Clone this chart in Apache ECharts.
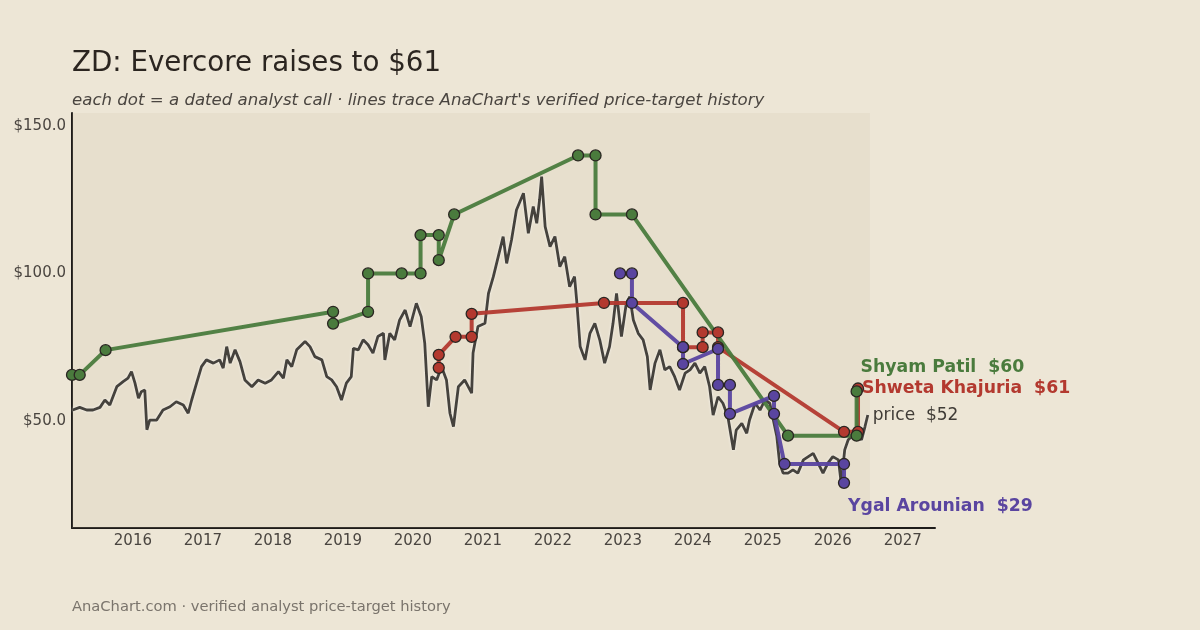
<!DOCTYPE html>
<html>
<head>
<meta charset="utf-8">
<script src="https://cdn.jsdelivr.net/npm/echarts@6/dist/echarts.min.js"></script>
<style>
  html, body { margin: 0; padding: 0; background: #EDE6D6; }
  #chart { width: 1200px; height: 630px; }
</style>
</head>
<body>
<div id="chart"></div>
<script>
// price path (decimal year, close $)
const priceYears = [
  2015.14, 2015.24, 2015.34, 2015.43, 2015.53, 2015.60, 2015.67, 2015.77, 2015.86, 2015.93,
  2015.98, 2016.03, 2016.08, 2016.12, 2016.17, 2016.20, 2016.24, 2016.34, 2016.43, 2016.53,
  2016.62, 2016.72, 2016.79, 2016.84, 2016.91, 2016.98, 2017.05, 2017.15, 2017.24, 2017.29,
  2017.34, 2017.39, 2017.46, 2017.53, 2017.60, 2017.70, 2017.79, 2017.89, 2017.98, 2018.08,
  2018.15, 2018.20, 2018.27, 2018.34, 2018.46, 2018.53, 2018.60, 2018.70, 2018.77, 2018.84,
  2018.91, 2018.98, 2019.05, 2019.12, 2019.15, 2019.22, 2019.29, 2019.36, 2019.43, 2019.50,
  2019.58, 2019.60, 2019.67, 2019.74, 2019.81, 2019.89, 2019.96, 2020.05, 2020.12, 2020.17,
  2020.22, 2020.27, 2020.34, 2020.41, 2020.48, 2020.53, 2020.58, 2020.65, 2020.74, 2020.84,
  2020.86, 2020.93, 2021.03, 2021.08, 2021.15, 2021.22, 2021.29, 2021.34, 2021.41, 2021.48,
  2021.58, 2021.65, 2021.72, 2021.77, 2021.81, 2021.84, 2021.89, 2021.96, 2022.03, 2022.10,
  2022.17, 2022.24, 2022.31, 2022.34, 2022.39, 2022.46, 2022.53, 2022.60, 2022.67, 2022.74,
  2022.81, 2022.86, 2022.91, 2022.98, 2023.05, 2023.10, 2023.15, 2023.22, 2023.29, 2023.35,
  2023.39, 2023.46, 2023.53, 2023.60, 2023.67, 2023.74, 2023.81, 2023.89, 2023.96, 2024.03,
  2024.10, 2024.17, 2024.24, 2024.29, 2024.36, 2024.43, 2024.50, 2024.58, 2024.62, 2024.70,
  2024.77, 2024.81, 2024.89, 2024.96, 2025.03, 2025.10, 2025.15, 2025.20, 2025.24, 2025.29,
  2025.36, 2025.43, 2025.50, 2025.58, 2025.65, 2025.72, 2025.79, 2025.86, 2025.93, 2026.00,
  2026.08, 2026.12, 2026.17, 2026.22, 2026.27, 2026.34, 2026.41, 2026.46, 2026.50
];
const priceValues = [
  53.7, 54.6, 53.7, 53.7, 54.6, 57.1, 55.4, 61.6, 63.3, 64.5,
  66.7, 62.8, 57.7, 59.9, 60.5, 47.0, 50.3, 50.3, 53.7, 54.8,
  56.5, 55.4, 52.6, 57.1, 62.8, 68.4, 70.7, 69.6, 70.7, 67.9,
  75.2, 69.6, 74.1, 70.1, 63.9, 61.6, 63.9, 62.8, 63.9, 66.7,
  64.5, 70.7, 68.4, 74.1, 76.9, 75.2, 71.8, 70.7, 65.0, 63.9,
  61.6, 57.1, 62.8, 65.0, 74.6, 74.1, 77.5, 75.8, 73.0, 78.6,
  79.7, 70.7, 79.7, 77.5, 84.2, 87.6, 82.0, 89.9, 85.3, 76.3,
  54.8, 65.0, 63.9, 68.4, 63.9, 52.6, 48.1, 61.6, 63.9, 59.4,
  73.0, 82.0, 83.1, 93.2, 98.9, 105.7, 112.5, 103.4, 111.4, 121.5,
  127.2, 113.6, 122.7, 117.0, 124.9, 132.8, 115.9, 109.1, 112.5, 102.3,
  105.7, 95.5, 98.9, 91.0, 75.2, 70.7, 79.7, 83.1, 77.5, 69.6,
  75.2, 83.1, 93.2, 78.6, 89.9, 92.1, 84.2, 79.7, 77.5, 71.8,
  60.5, 69.6, 74.1, 67.3, 68.4, 65.0, 60.5, 66.2, 67.3, 69.6,
  66.2, 68.4, 61.6, 52.0, 58.2, 56.0, 51.5, 40.2, 46.9, 49.2,
  45.8, 50.3, 56.0, 53.7, 57.1, 56.0, 50.3, 44.7, 35.7, 32.3,
  32.3, 33.4, 32.3, 36.8, 37.9, 39.0, 35.7, 32.3, 35.7, 37.9,
  36.8, 28.9, 40.2, 43.6, 44.7, 45.8, 43.6, 48.1, 52.0
];

// analyst calls: [decimal year, target $]
const shyamCalls = [
  [2015.13, 65.6], [2015.24, 65.6], [2015.61, 74], [2018.86, 87], [2018.86, 83],
  [2019.36, 87], [2019.36, 100], [2019.84, 100], [2020.11, 100], [2020.11, 113],
  [2020.37, 113], [2020.37, 104.5], [2020.59, 120], [2022.36, 140], [2022.61, 140],
  [2022.61, 120], [2023.13, 120], [2025.36, 45], [2026.34, 45], [2026.34, 60]
];
const shwetaCalls = [
  [2020.37, 68], [2020.37, 72.4], [2020.61, 78.5], [2020.84, 78.5], [2020.84, 86.3],
  [2022.73, 90], [2023.86, 90], [2023.86, 75], [2024.14, 75], [2024.14, 80],
  [2024.36, 80], [2024.36, 75], [2026.16, 46.3], [2026.36, 46.3], [2026.36, 61]
];
const ygalCalls = [
  [2022.96, 100], [2023.13, 100], [2023.13, 90], [2023.86, 75], [2023.86, 69.3],
  [2024.36, 74.4], [2024.36, 62.2], [2024.53, 62.2], [2024.53, 52.4], [2025.16, 58.5],
  [2025.16, 52.4], [2025.31, 35.4], [2026.16, 35.4], [2026.16, 29]
];

const yearTicks = [2016, 2017, 2018, 2019, 2020, 2021, 2022, 2023, 2024, 2025, 2026, 2027];
const priceTicks = [50, 100, 150];

const xMin = 2015.13, xMax = 2027.46, dataEnd = 2026.53;
const yMin = 13.7, yMax = 154.4;

const analysts = [
  { name: 'Shweta Khajuria', calls: shwetaCalls, color: '#b3392f', labelOffset: [4, 0] },
  { name: 'Shyam Patil', calls: shyamCalls, color: '#4a7b3d', labelOffset: [4, -24] },
  { name: 'Ygal Arounian', calls: ygalCalls, color: '#5a45a0', labelOffset: [4, 24] }
];

const font = 'DejaVu Sans';
const chart = echarts.init(document.getElementById('chart'));

const series = [];
series.push({
  name: 'price',
  type: 'line',
  data: priceYears.map((y, i) => [y, priceValues[i]]),
  showSymbol: false,
  z: 2,
  lineStyle: { color: '#45423d', width: 2.8, shadowColor: 'rgba(255,255,255,0.7)', shadowBlur: 3 },
  endLabel: {
    show: true,
    formatter: () => 'price  $' + Math.round(priceValues[priceValues.length - 1]),
    color: '#3f3b36', fontFamily: font, fontSize: 17, distance: 0, offset: [5, 1]
  },
  markArea: {
    silent: true,
    itemStyle: { color: 'rgba(200,185,160,0.16)' },
    data: [[{ coord: [xMin, yMin] }, { coord: [dataEnd, yMax] }]]
  }
});

analysts.forEach(a => {
  const last = a.calls[a.calls.length - 1][1];
  series.push({
    name: a.name,
    type: 'line',
    data: a.calls,
    showSymbol: false,
    z: 3,
    lineStyle: { color: a.color, width: 4, opacity: 0.95 },
    endLabel: {
      show: true,
      formatter: () => a.name + '  $' + Math.round(last),
      color: a.color, fontFamily: font, fontSize: 17.3, fontWeight: 'bold',
      distance: 0, offset: a.labelOffset
    }
  });
});
analysts.forEach(a => {
  series.push({
    name: a.name + ' calls',
    type: 'scatter',
    data: a.calls,
    symbolSize: 11,
    z: 4,
    itemStyle: { color: a.color, borderColor: '#2a2622', borderWidth: 1.3, opacity: 1 }
  });
});

const option = {
  backgroundColor: '#EDE6D6',
  animation: false,
  title: [
    { text: 'ZD: Evercore raises to $61', left: 67, top: 45,
      textStyle: { fontFamily: font, fontSize: 27.7, fontWeight: 'normal', color: '#2b2520' } },
    { text: "each dot = a dated analyst call · lines trace AnaChart's verified price-target history", left: 67, top: 87,
      textStyle: { fontFamily: font, fontSize: 16.6, fontStyle: 'italic', fontWeight: 'normal', color: '#4a4540' } },
    { text: 'AnaChart.com · verified analyst price-target history', left: 67, top: 595,
      textStyle: { fontFamily: font, fontSize: 14.7, fontWeight: 'normal', color: '#7a746c' } }
  ],
  grid: { left: 72, right: 265, top: 113, bottom: 102, containLabel: false },
  xAxis: {
    type: 'value', min: xMin, max: xMax,
    axisLine: { show: true, lineStyle: { color: '#1e1c1a', width: 2 } },
    axisTick: { show: false },
    splitLine: { show: false },
    axisLabel: {
      customValues: yearTicks, formatter: v => String(v),
      color: '#4a4540', fontFamily: font, fontSize: 15, margin: 6
    }
  },
  yAxis: {
    type: 'value', min: yMin, max: yMax,
    axisLine: { show: true, lineStyle: { color: '#1e1c1a', width: 2 } },
    axisTick: { show: false },
    splitLine: { show: false },
    axisLabel: {
      customValues: priceTicks, formatter: v => '$' + v.toFixed(1),
      color: '#4a4540', fontFamily: font, fontSize: 15, margin: 6
    }
  },
  series: series
};
chart.setOption(option);
</script>
</body>
</html>
